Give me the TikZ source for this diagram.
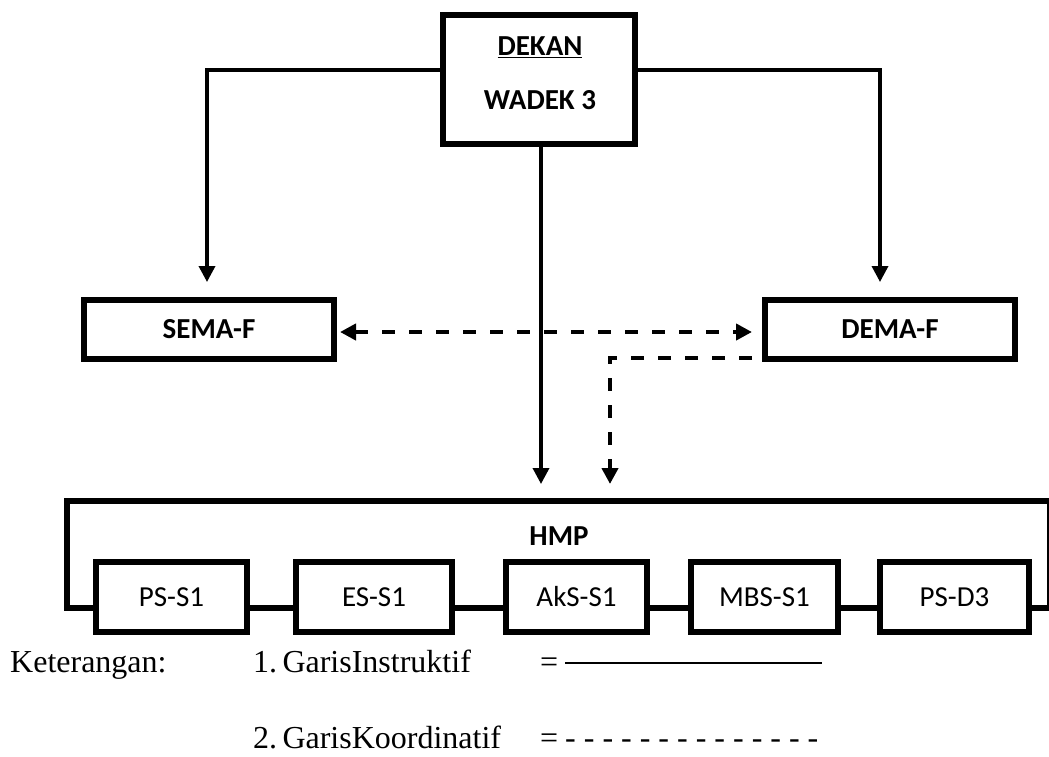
\documentclass[tikz,border=0pt]{standalone}
\usepackage{fontspec}
\setmainfont{Carlito}
\newfontfamily\tnr{Liberation Serif}
\usetikzlibrary{arrows.meta}
\tikzset{
  tip/.tip={Triangle[length=16pt,width=16pt]},
  bbox/.style={draw,line width=6pt,minimum height=59pt,inner sep=0pt,font=\fontsize{29}{34}\selectfont\bfseries},
  sbox/.style={draw,line width=6pt,minimum height=70pt,inner sep=0pt,font=\fontsize{29}{34}\selectfont},
  conn/.style={line width=3.5pt},
  arr/.style={conn,-tip},
  dsh/.style={line width=4pt,dash pattern=on 13pt off 14pt},
  frame/.style={line width=6pt,line join=miter},
  link/.style={line width=5.5pt},
  lbl/.style={font=\fontsize{29}{34}\selectfont\bfseries,inner sep=0pt},
  legend/.style={anchor=base west,inner sep=0pt,font=\tnr\fontsize{32}{36}\selectfont},
}
\begin{document}
\begin{tikzpicture}[x=1pt,y=-1pt]
\useasboundingbox (0,0) rectangle (1049,756);
% top
\node[draw,line width=6pt,minimum width=192pt,minimum height=129pt,inner sep=0pt] (dekan) at (539,79.5) {};
\node[lbl] (dekant) at (540,47) {\underline{DEKAN}};
\node[lbl] (wadek) at (540,100) {WADEK 3};
% middle
\node[bbox,minimum width=250pt] (sema) at (209,329.5) {SEMA-F};
\node[bbox,minimum width=250pt] (dema) at (890,329.5) {DEMA-F};
% bottom
\node[sbox,minimum width=151pt] (ps1) at (171.5,597) {PS-S1};
\node[sbox,minimum width=156pt] (es1) at (374,597) {ES-S1};
\node[sbox,minimum width=141pt] (aks) at (576.5,597) {AkS-S1};
\node[sbox,minimum width=147pt] (mbs) at (764.5,597) {MBS-S1};
\node[sbox,minimum width=149pt] (psd3) at (954.5,597) {PS-D3};
\node[lbl] (hmp) at (559,536) {HMP};
% coordinates
\coordinate (tipL) at (207,282);
\coordinate (tipR) at (880,282);
\coordinate (tipC) at (541,484);
\coordinate (dTip) at (752,332);
\coordinate (d2s) at (752,358);
\coordinate (d2t) at (610,484);
% instruktif lines
\draw[arr] ([yshift=9.5pt]dekan.west) -| (tipL);
\draw[arr] ([yshift=9.5pt]dekan.east) -| (tipR);
\draw[arr] (tipC |- dekan.south) -- (tipC);
% koordinatif lines
\draw[dsh,tip-tip] ([xshift=3pt]sema.east |- dTip) -- (dTip);
\draw[dsh,-tip] (d2s) -| (d2t);
% HMP frame
\draw[frame] ([yshift=-11pt]ps1.west) -- ++(-26,0) |- (1050,501) |- ([yshift=-11pt]psd3.east);
\draw[link] ([yshift=-11pt]ps1.east) -- ([yshift=-11pt]es1.west);
\draw[link] ([yshift=-11pt]es1.east) -- ([yshift=-11pt]aks.west);
\draw[link] ([yshift=-11pt]aks.east) -- ([yshift=-11pt]mbs.west);
\draw[link] ([yshift=-11pt]mbs.east) -- ([yshift=-11pt]psd3.west);
% legend
\node[legend] (ket) at (10,672) {Keterangan:};
\node[legend] (l1) at (253,672) {1.\,GarisInstruktif};
\node[legend] (eq1) at (540,672) {=};
\coordinate (la) at (565,663);
\coordinate (lb) at (822,663);
\draw[line width=1.5pt] (la) -- (lb);
\node[legend] (l2) at (253,748) {2.\,GarisKoordinatif};
\node[legend] (eq2) at (540,748) {=};
\node[legend] (dd) at (565,748) {- - - - - - - - - - - - - -};
\end{tikzpicture}
\end{document}
